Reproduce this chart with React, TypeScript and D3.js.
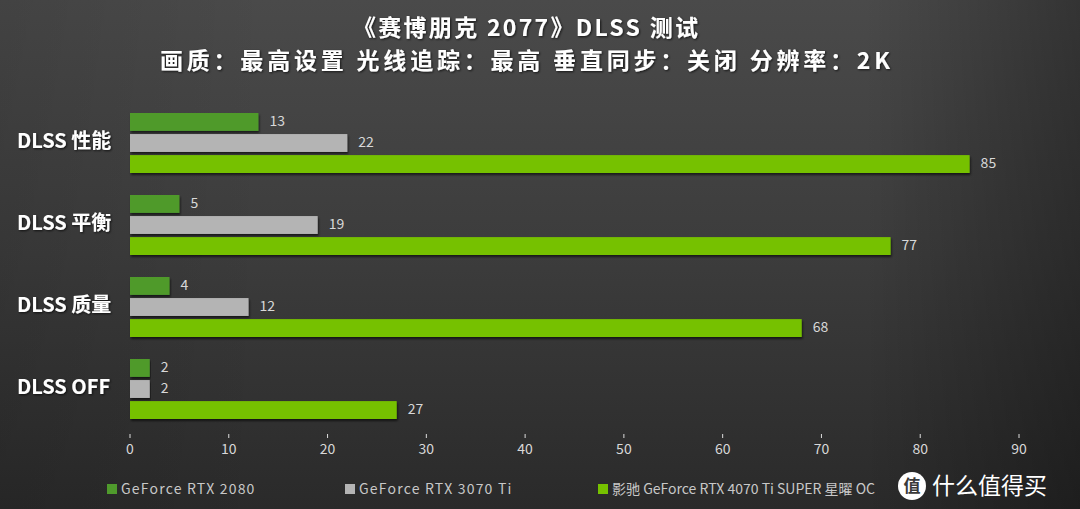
import React from "react";
import * as d3 from "d3";

const categories = ["DLSS 性能", "DLSS 平衡", "DLSS 质量", "DLSS OFF"];
const seriesNames = [
  "GeForce RTX 2080",
  "GeForce RTX 3070 Ti",
  "影驰 GeForce RTX 4070 Ti SUPER 星曜 OC",
];
const rtx2080 = [13, 5, 4, 2];
const rtx3070ti = [22, 19, 12, 2];
const rtx4070tisuper = [85, 77, 68, 27];
const xTicks = [0, 10, 20, 30, 40, 50, 60, 70, 80, 90];
const seriesColors = ["#4f9a2c", "#b4b4b4", "#76c100"];

const W = 1080;
const H = 509;

export default function App() {
  const values = [rtx2080, rtx3070ti, rtx4070tisuper];
  const x = d3.scaleLinear().domain([0, 90]).range([130, 1019]);
  const y = d3.scaleBand<string>().domain(categories).range([104, 432]);
  const inner = d3
    .scaleBand<string>()
    .domain(seriesNames)
    .range([9, 69])
    .paddingInner(0.15);
  const font = "'Noto Sans CJK SC', 'Noto Sans', sans-serif";
  const legendX = [107, 345, 598];
  const legendSpacing = [1.2, 1.2, 0];

  return (
    <svg
      width={W}
      height={H}
      style={{ display: "block", position: "absolute", left: 0, top: 0 }}
    >
      <defs>
        <linearGradient id="bg" x1="0" y1="0" x2="0" y2="1">
          <stop offset="0" stopColor="#4a4a4a" />
          <stop offset="0.5" stopColor="#3c3c3c" />
          <stop offset="1" stopColor="#2a2a2a" />
        </linearGradient>
        <linearGradient id="bgSide" x1="0" y1="0" x2="1" y2="0">
          <stop offset="0" stopColor="#000" stopOpacity="0.1" />
          <stop offset="0.25" stopColor="#000" stopOpacity="0" />
          <stop offset="0.8" stopColor="#000" stopOpacity="0" />
          <stop offset="1" stopColor="#000" stopOpacity="0.3" />
        </linearGradient>
        <filter id="shadow" x="-5%" y="-30%" width="110%" height="180%">
          <feDropShadow dx="1" dy="2" stdDeviation="1.2" floodColor="#000" floodOpacity="0.6" />
        </filter>
        <filter id="tshadow" x="-5%" y="-30%" width="110%" height="160%">
          <feDropShadow dx="1" dy="1" stdDeviation="0.8" floodColor="#000" floodOpacity="0.7" />
        </filter>
      </defs>
      <rect width={W} height={H} fill="url(#bg)" />
      <rect width={W} height={H} fill="url(#bgSide)" />

      <text
        x={353}
        y={36}
        textLength={345}
        lengthAdjust="spacing"
        fill="#fff"
        fontFamily={font}
        fontWeight={700}
        fontSize={23}
        filter="url(#tshadow)"
      >
        《赛博朋克 2077》DLSS 测试
      </text>
      <text
        x={160}
        y={69}
        textLength={730}
        lengthAdjust="spacing"
        fill="#fff"
        fontFamily={font}
        fontWeight={700}
        fontSize={23}
        filter="url(#tshadow)"
      >
        画质：最高设置 光线追踪：最高  垂直同步：关闭 分辨率：2K
      </text>

      {categories.map((c, ci) => (
        <g key={c}>
          <text
            x={17}
            y={(y(c) ?? 0) + 39}
            dominantBaseline="middle"
            fill="#fff"
            fontFamily={font}
            fontWeight={700}
            fontSize={20}
            filter="url(#tshadow)"
          >
            {c}
          </text>
          {seriesNames.map((s, si) => {
            const v = values[si][ci];
            const by = (y(c) ?? 0) + (inner(s) ?? 0);
            const bh = inner.bandwidth();
            return (
              <g key={s}>
                <rect
                  x={x(0)}
                  y={by}
                  width={x(v) - x(0)}
                  height={bh}
                  fill={seriesColors[si]}
                  filter="url(#shadow)"
                />
                <text
                  x={x(v) + 11}
                  y={by + bh / 2}
                  dominantBaseline="middle"
                  fill="#d8d8d8"
                  fontFamily={font}
                  fontSize={14}
                >
                  {v}
                </text>
              </g>
            );
          })}
        </g>
      ))}

      {xTicks.map((t) => (
        <g key={t}>
          <line x1={x(t)} x2={x(t)} y1={434} y2={438} stroke="#ddd" strokeWidth={1} />
          <text x={x(t)} y={454} textAnchor="middle" fill="#d8d8d8" fontFamily={font} fontSize={14}>
            {t}
          </text>
        </g>
      ))}

      {seriesNames.map((s, si) => (
        <g key={s}>
          <rect x={legendX[si]} y={484} width={10} height={10} fill={seriesColors[si]} />
          <text
            x={legendX[si] + 14}
            y={494}
            fill="#c8c8c8"
            fontFamily={font}
            fontSize={14}
            letterSpacing={legendSpacing[si]}
          >
            {s}
          </text>
        </g>
      ))}

      <g>
        <circle cx={912} cy={486} r={14} fill="#fff" />
        <text x={912} y={487} textAnchor="middle" dominantBaseline="middle" fill="#3a3a3a" fontFamily={font} fontWeight={700} fontSize={17}>
          值
        </text>
        <text x={932} y={494} fill="#fff" fontFamily={font} fontSize={23}>
          什么值得买
        </text>
      </g>
    </svg>
  );
}
